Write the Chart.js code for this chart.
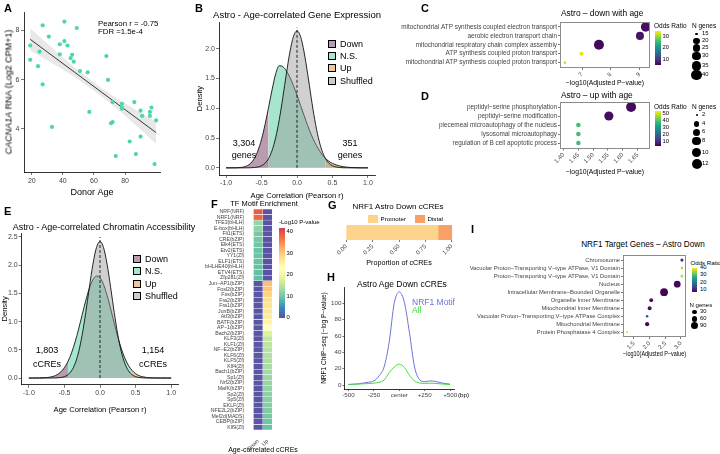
<!DOCTYPE html>
<html>
<head>
<meta charset="utf-8">
<title>Astro age figure</title>
<script src="https://cdn.jsdelivr.net/npm/chart.js@4.4.1/dist/chart.umd.min.js"></script>
<style>
  body { margin: 0; background: #fff; }
  #fig { position: relative; width: 720px; height: 454px; overflow: hidden; font-family: "Liberation Sans", Arial, sans-serif; }
  #fig canvas { position: absolute; }
  .t { position: absolute; white-space: nowrap; line-height: 1; color: #000; }
  .lt { position: absolute; font-weight: bold; font-size: 11px; line-height: 1; color: #000; }
</style>
</head>
<body>
<div id="fig"></div>
<script>
// ---- A: CACNA1A expression vs donor age
var donorAge = [19, 19, 24, 25, 27, 27, 31, 33, 38, 38, 41, 41, 43, 45, 46, 47, 49, 51, 56, 57,
                68, 69, 71, 72, 72, 74, 78, 78, 78, 83, 86, 87, 90, 91, 96, 96, 97, 100, 99, 90];
var cacna1aExpr = [7.39, 6.81, 6.55, 7.14, 8.21, 5.81, 7.75, 4.08, 7.44, 7.03, 8.36, 7.57, 7.39, 6.88, 7.01, 6.73, 8.10, 6.35, 6.30, 4.69,
                   6.96, 5.99, 4.23, 4.28, 5.09, 2.90, 5.02, 4.87, 4.82, 3.49, 5.09, 2.98, 4.74, 4.53, 4.69, 4.53, 4.87, 4.35, 2.57, 3.69];
var fitAge = [19, 100];
var fitExpr = [7.64, 3.85];
var bandAge = [19, 30, 40, 50, 60, 70, 80, 90, 100];
var bandHi = [8.09, 7.47, 6.91, 6.38, 5.89, 5.44, 5.04, 4.66, 4.30];
var bandLo = [7.19, 6.79, 6.41, 6.00, 5.55, 5.06, 4.54, 3.98, 3.40];

// ---- B / E: density of age correlation
var rGrid = [-1.0, -0.95, -0.9, -0.85, -0.8, -0.75, -0.7, -0.65, -0.6, -0.55, -0.5, -0.45, -0.4, -0.35, -0.3, -0.25, -0.2, -0.15, -0.1, -0.05, 0,
             0.05, 0.1, 0.15, 0.2, 0.25, 0.3, 0.35, 0.4, 0.45, 0.5, 0.55, 0.6, 0.65, 0.7, 0.75, 0.8, 0.85, 0.9, 0.95, 1.0];
var geneDensity = [0, 0, 0.001, 0.002, 0.006, 0.015, 0.037, 0.08, 0.16, 0.29, 0.48, 0.73, 1.02, 1.32, 1.58, 1.715, 1.70, 1.63, 1.52, 1.38, 1.22,
                   1.05, 0.88, 0.71, 0.56, 0.43, 0.32, 0.23, 0.16, 0.11, 0.075, 0.05, 0.032, 0.02, 0.012, 0.007, 0.004, 0.002, 0.001, 0, 0];
var geneShuffled = [0, 0, 0, 0, 0, 0, 0.001, 0.002, 0.006, 0.015, 0.035, 0.078, 0.159, 0.297, 0.512, 0.81, 1.18, 1.58, 1.946, 2.206, 2.30,
                    2.206, 1.946, 1.58, 1.18, 0.81, 0.512, 0.297, 0.159, 0.078, 0.035, 0.015, 0.006, 0.002, 0.001, 0, 0, 0, 0, 0, 0];
var geneCut = [-0.4, 0.4];
var geneCounts = ['3,304', '351'];
var atacDensity = [0, 0, 0.001, 0.002, 0.004, 0.008, 0.016, 0.032, 0.061, 0.109, 0.183, 0.293, 0.446, 0.639, 0.871, 1.123, 1.373, 1.588, 1.741, 1.808, 1.779,
                   1.658, 1.464, 1.225, 0.972, 0.728, 0.518, 0.349, 0.223, 0.135, 0.077, 0.042, 0.022, 0.011, 0.005, 0.002, 0.001, 0, 0, 0, 0];
var atacShuffled = [0, 0, 0, 0, 0, 0, 0, 0.001, 0.003, 0.009, 0.025, 0.059, 0.128, 0.255, 0.463, 0.769, 1.161, 1.601, 2.014, 2.311, 2.42,
                    2.311, 2.014, 1.601, 1.161, 0.769, 0.463, 0.255, 0.128, 0.059, 0.025, 0.009, 0.003, 0.001, 0, 0, 0, 0, 0, 0, 0];
var atacCut = [-0.45, 0.45];
var atacCounts = ['1,803', '1,154'];
var groupNames = ['Down', 'N.S.', 'Up', 'Shuffled'];

// ---- C / D: GO terms
var downTerms = ['mitochondrial ATP synthesis coupled electron transport', 'aerobic electron transport chain',
                 'mitochondrial respiratory chain complex assembly', 'ATP synthesis coupled proton transport',
                 'mitochondrial ATP synthesis coupled proton transport'];
var downLogP = [9.22, 9.02, 7.59, 6.98, 6.40];
var downOR = [7, 7.5, 6.5, 34.4, 32.4];
var downN = [35, 27, 38, 16, 15];
var upTerms = ['peptidyl−serine phosphorylation', 'peptidyl−serine modification', 'piecemeal microautophagy of the nucleus',
               'lysosomal microautophagy', 'regulation of B cell apoptotic process'];
var upLogP = [1.628, 1.553, 1.45, 1.45, 1.45];
var upOR = [5, 5.5, 38.5, 38.5, 38.5];
var upN = [12, 10, 3, 3, 3];

// ---- F: motif enrichment
var motifs = ['NRF(NRF)', 'NRF1(NRF)', 'TFE3(bHLH)', 'E-box(bHLH)', 'Fli1(ETS)', 'CRE(bZIP)', 'Elk4(ETS)', 'Etv2(ETS)', 'YY1(Zf)', 'ELF1(ETS)',
              'bHLHE40(bHLH)', 'ETV4(ETS)', 'Zfp281(Zf)', 'Jun−AP1(bZIP)', 'Fosl2(bZIP)', 'Fos(bZIP)', 'Fra2(bZIP)', 'Fra1(bZIP)', 'JunB(bZIP)', 'Atf3(bZIP)',
              'BATF(bZIP)', 'AP−1(bZIP)', 'Bach2(bZIP)', 'KLF3(Zf)', 'KLF1(Zf)', 'NF−E2(bZIP)', 'KLF6(Zf)', 'KLF5(Zf)', 'Klf4(Zf)', 'Bach1(bZIP)',
              'Sp1(Zf)', 'Nrf2(bZIP)', 'MafK(bZIP)', 'Sp2(Zf)', 'Sp5(Zf)', 'EKLF(Zf)', 'NFE2L2(bZIP)', 'Mef2d(MADS)', 'CEBP(bZIP)', 'Klf9(Zf)'];
var motifDown = [39, 38, 12.5, 12, 10.5, 10.3, 10, 9.8, 9.6, 9.5, 9.3, 9.2, 9,
                 0.6, 0.6, 0.6, 0.6, 0.6, 0.6, 0.6, 0.6, 0.6, 0.6, 0.6, 0.6, 0.6, 0.6, 0.6, 0.6, 0.6, 0.6, 0.6, 0.6, 0.6, 0.6, 0.6, 0.6, 0.6, 0.6, 0.6];
var motifUp = [0.3, 0.3, 0.3, 0.3, 0.3, 0.3, 0.3, 0.3, 0.3, 0.3, 0.3, 0.3, 0.3,
               31, 30.5, 29, 28, 27.5, 27, 26, 25, 23.5, 18, 16, 15.5, 15, 14.5, 14.2, 14, 13.4, 13, 12.7, 12.4, 12, 11.8, 11.5, 11, 10.5, 10, 9.5];
var motifCols = ['Down', 'Up'];

// ---- G: promoter / distal
var creClass = ['Promoter', 'Distal'];
var creFrac = [0.87, 0.13];

// ---- H: ChIP signal around cCREs
var bpPos = [-500, -450, -400, -350, -300, -250, -200, -150, -100, -50, 0, 50, 100, 150, 200, 250, 300, 350, 400, 450, 500];
var nrf1Motif = [0.5, 1, 1.5, 2.5, 3.5, 5, 11, 22, 52, 100, 114, 101, 64, 22, 6.5, 4, 5, 4.5, 3, 1.8, 1];
var allCre = [0.8, 1, 1.2, 1.5, 1.8, 2.3, 3.3, 6, 15, 22, 25.5, 21.5, 12, 5, 2.5, 2, 2.2, 2, 1.5, 1, 0.6];
var hTickLabels = ['-500', '-250', 'center', '+250', '+500'];

// ---- I: NRF1 target genes
var nrf1Terms = ['Chromosome', 'Vacuolar Proton−Transporting V−type ATPase, V1 Domain', 'Proton−Transporting V−type ATPase, V1 Domain',
                 'Nucleus', 'Intracellular Membrane−Bounded Organelle', 'Organelle Inner Membrane', 'Mitochondrial Inner Membrane',
                 'Vacuolar Proton−Transporting V−type ATPase Complex', 'Mitochondrial Membrane', 'Protein Phosphatase 4 Complex'];
var nrf1LogP = [3.03, 3.03, 3.03, 2.88, 2.46, 2.05, 2.0, 1.92, 1.92, 1.28];
var nrf1OR = [12.7, 37, 37, 8.5, 8, 8.5, 9, 15, 8.5, 39.3];
var nrf1N = [18, 12, 12, 82, 110, 26, 28, 12, 32, 8];

// colour ramps
var viridisStops = ['#440154', '#482475', '#414487', '#355f8d', '#2a788e', '#21918c', '#22a884', '#44bf70', '#7ad151', '#bddf26', '#fde725'];
var spectralStops = ['#5e4fa2', '#3288bd', '#66c2a5', '#abdda4', '#e6f598', '#ffffbf', '#fee08b', '#fdae61', '#f46d43', '#d53e4f'];

function rgbOf(h) {
  return [parseInt(h.substr(1, 2), 16), parseInt(h.substr(3, 2), 16), parseInt(h.substr(5, 2), 16)];
}
function ramp(stops, t) {
  t = Math.max(0, Math.min(1, t));
  var p = t * (stops.length - 1), i = Math.min(Math.floor(p), stops.length - 2), f = p - i;
  var a = rgbOf(stops[i]), b = rgbOf(stops[i + 1]);
  return 'rgb(' + [0, 1, 2].map(function (k) { return Math.round(a[k] + (b[k] - a[k]) * f); }).join(',') + ')';
}
function spec(v) { return ramp(spectralStops, v / 42); }
function sizeR(n, s) { return s.rmin + (s.rmax - s.rmin) * Math.sqrt(Math.max(0, n - s.lo) / (s.hi - s.lo)); }

Chart.defaults.font.family = '"Liberation Sans", Arial, sans-serif';
Chart.defaults.color = '#444';
Chart.defaults.animation = false;
Chart.defaults.responsive = false;
Chart.defaults.maintainAspectRatio = false;
Chart.defaults.plugins.legend.display = false;
Chart.defaults.plugins.tooltip.enabled = false;
Chart.defaults.elements.point.radius = 0;

// grey box round the plot area (C, D, I)
Chart.register({
  id: 'frame',
  afterDatasetsDraw: function (chart, args, opts) {
    if (!opts.color) return;
    var a = chart.chartArea, ctx = chart.ctx;
    ctx.save();
    ctx.strokeStyle = opts.color;
    ctx.lineWidth = 1;
    ctx.strokeRect(Math.round(a.left) + 0.5, Math.round(a.top) + 0.5, Math.round(a.right - a.left) - 1, Math.round(a.bottom - a.top) - 1);
    ctx.restore();
  }
});

var fig = document.getElementById('fig');

function txt(s, x, y, size, o) {
  o = o || {};
  var d = document.createElement('div');
  d.className = 't';
  d.innerHTML = s;
  d.style.left = x + 'px';
  d.style.top = y + 'px';
  d.style.fontSize = size + 'px';
  if (o.color) d.style.color = o.color;
  var tx = o.a === 'l' ? '0' : (o.a === 'r' ? '-100%' : '-50%');
  d.style.transform = 'translate(' + tx + ',-50%)' + (o.rot ? ' rotate(' + o.rot + 'deg)' : '');
  fig.appendChild(d);
  return d;
}
function box(x, y, w, h, css) {
  var d = document.createElement('div');
  d.style.position = 'absolute';
  d.style.left = x + 'px';
  d.style.top = y + 'px';
  d.style.width = w + 'px';
  d.style.height = h + 'px';
  for (var k in css) d.style[k] = css[k];
  fig.appendChild(d);
  return d;
}
function letter(s, x, y) {
  var d = document.createElement('div');
  d.className = 'lt';
  d.textContent = s;
  d.style.left = x + 'px';
  d.style.top = y + 'px';
  fig.appendChild(d);
}

// canvas at b = [x, y, w, h], plot area at area = [x0, y0, x1, y1] (page pixels)
function panel(b, area, cfg) {
  var c = document.createElement('canvas');
  c.width = b[2];
  c.height = b[3];
  c.style.left = b[0] + 'px';
  c.style.top = b[1] + 'px';
  c.style.width = b[2] + 'px';
  c.style.height = b[3] + 'px';
  fig.appendChild(c);
  var yw = area[0] - b[0], xh = b[1] + b[3] - area[3];
  var o = cfg.options;
  o.devicePixelRatio = 1;
  o.layout = {padding: {left: 0, top: area[1] - b[1], right: b[0] + b[2] - area[2], bottom: 0}};
  o.scales.x.afterFit = function (s) { s.height = xh; s.paddingLeft = 0; s.paddingRight = 0; };
  o.scales.y.afterFit = function (s) { s.width = yw; s.paddingTop = 0; s.paddingBottom = 0; };
  return new Chart(c, cfg);
}

function linAx(min, max, ticks, fmt, size, o) {
  o = o || {};
  return {
    type: 'linear', min: min, max: max, reverse: !!o.reverse,
    afterBuildTicks: function (s) { s.ticks = ticks.map(function (v) { return {value: v}; }); },
    ticks: {font: {size: size}, color: '#444', padding: o.pad == null ? 1 : o.pad, autoSkip: false,
            maxRotation: o.rot || 0, minRotation: o.rot || 0,
            callback: function (v, i) { return fmt(v, i); }},
    grid: {display: true, drawOnChartArea: false, tickLength: o.tl == null ? 3 : o.tl, color: '#555', lineWidth: 0.8},
    border: {display: o.border !== false, color: '#000', width: 0.8},
    title: o.title ? {display: true, text: o.title, font: {size: o.tsize || 7}, color: '#000', padding: 0} : {display: false}
  };
}
function fix1(v) { return v.toFixed(1); }

// ================= A
panel([0, 0, 170, 198], [24, 12, 160, 172], {
  type: 'line',
  data: {datasets: [
    {data: donorAge.map(function (a, i) { return {x: a, y: cacna1aExpr[i]}; }), showLine: false,
     pointRadius: 2.1, pointBackgroundColor: '#4fd7a3', pointBorderWidth: 0, order: 0},
    {data: fitAge.map(function (a, i) { return {x: a, y: fitExpr[i]}; }), borderColor: '#222', borderWidth: 0.9, order: 1},
    {data: bandAge.map(function (a, i) { return {x: a, y: bandHi[i]}; }), borderWidth: 0, tension: 0.4,
     fill: '+1', backgroundColor: 'rgba(165,165,165,0.25)', order: 2},
    {data: bandAge.map(function (a, i) { return {x: a, y: bandLo[i]}; }), borderWidth: 0, tension: 0.4, order: 3}
  ]},
  options: {scales: {
    x: linAx(15, 102.5, [20, 40, 60, 80], String, 7, {title: 'Donor Age', tsize: 9, pad: 2}),
    y: linAx(2.25, 8.75, [4, 6, 8], String, 7, {pad: 1.5})
  }}
});
txt('<i>CACNA1A</i> RNA (Log2 CPM+1)', 9, 92, 9, {rot: -90});
txt('Pearson r = -0.75', 98, 23.5, 7.8, {a: 'l'});
txt('FDR =1.5e-4', 98, 32, 7.8, {a: 'l'});

// ================= B and E
function densityPanel(b, area, obs, shuf, cut, dashTop, yMax, yTicks) {
  function pts(keep) {
    var out = [];
    rGrid.forEach(function (r, i) { if (keep(r)) out.push({x: r, y: obs[i]}); });
    return out;
  }
  function region(keep, col) {
    return {data: pts(keep), borderWidth: 0, fill: 'origin', backgroundColor: col, cubicInterpolationMode: 'monotone', order: 6};
  }
  return panel(b, area, {
    type: 'line',
    data: {datasets: [
      region(function (r) { return r <= cut[0]; }, '#b99cb0'),
      region(function (r) { return r >= cut[0] && r <= cut[1]; }, '#a6e6ce'),
      region(function (r) { return r >= cut[1]; }, '#ebc79b'),
      {data: pts(function () { return true; }), borderColor: '#111', borderWidth: 0.9, cubicInterpolationMode: 'monotone', order: 5},
      {data: rGrid.map(function (r, i) { return {x: r, y: shuf[i]}; }), borderColor: '#111', borderWidth: 0.9,
       fill: 'origin', backgroundColor: 'rgba(150,150,150,0.45)', cubicInterpolationMode: 'monotone', order: 4},
      {data: [{x: 0, y: 0}, {x: 0, y: dashTop}], borderColor: '#111', borderWidth: 0.9, borderDash: [3, 2], order: 3}
    ]},
    options: {scales: {
      x: linAx(-1.1, 1.1, [-1, -0.5, 0, 0.5, 1], fix1, 7, {title: 'Age Correlation (Pearson r)', tsize: 7.6}),
      y: linAx(-0.12, yMax, yTicks, fix1, 7, {title: 'Density', tsize: 7.6})
    }}
  });
}
function groupLegend(x, ys, tx) {
  var cols = ['#b99cb0', '#a6e6ce', '#ebc79b', '#cccccc'];
  groupNames.forEach(function (g, i) {
    box(x, ys[i] - 4, 8, 8, {background: cols[i], border: '0.8px solid #000', boxSizing: 'border-box'});
    txt(g, tx, ys[i], 9, {a: 'l'});
  });
}

densityPanel([195, 0, 182, 200], [219, 22, 375, 175], geneDensity, geneShuffled, geneCut, 2.36, 2.45, [0, 0.5, 1, 1.5, 2]);
groupLegend(328, [44.2, 56.3, 68.4, 80.5], 340);
txt('Astro - Age-correlated Gene Expression', 297, 15, 9.5);
txt(geneCounts[0], 244, 143, 9);
txt('genes', 244, 155, 9);
txt(geneCounts[1], 350, 143, 9);
txt('genes', 350, 155, 9);

densityPanel([0, 230, 185, 184], [21.7, 233, 178.3, 384.8], atacDensity, atacShuffled, atacCut, 2.5, 2.57, [0, 0.5, 1, 1.5, 2, 2.5]);
groupLegend(133, [258.7, 271.2, 283.8, 296.2], 145);
txt('Astro - Age-correlated Chromatin Accessibility', 104, 227, 9);
txt(atacCounts[0], 47, 350, 9);
txt('cCREs', 47, 364, 9);
txt(atacCounts[1], 153, 350, 9);
txt('cCREs', 153, 364, 9);

// ================= C, D, I bubbles
function bubblePanel(b, area, terms, logp, or, n, orRange, sz, xr, xt, xd, lsize) {
  return panel(b, area, {
    type: 'bubble',
    data: {datasets: [{
      data: terms.map(function (t, i) { return {x: logp[i], y: i, r: sizeR(n[i], sz)}; }),
      backgroundColor: or.map(function (v) { return ramp(viridisStops, (v - orRange[0]) / (orRange[1] - orRange[0])); }),
      borderWidth: 0
    }]},
    options: {
      plugins: {frame: {color: '#8c8c8c'}},
      scales: {
        x: linAx(xr[0], xr[1], xt, function (v) { return v.toFixed(xd); }, 6,
                 {rot: 45, title: '−log10(Adjusted P−value)', tsize: 6.8, border: false, tl: 2}),
        y: linAx(-0.6, terms.length - 0.4, terms.map(function (t, i) { return i; }), function (v) { return terms[v]; }, lsize,
                 {reverse: true, border: false, tl: 2, pad: 1})
      }
    }
  });
}
function orLegend(x, y, h, range, ticks, tx) {
  box(x, y, 5.5, h, {background: 'linear-gradient(to top,' + viridisStops.join(',') + ')'});
  ticks.forEach(function (v) {
    txt(String(v), tx, y + h * (1 - (v - range[0]) / (range[1] - range[0])), 5.8, {a: 'l'});
  });
}
function sizeLegend(vals, ys, sz, dx, tx) {
  vals.forEach(function (v, i) {
    var r = sizeR(v, sz);
    box(dx - r, ys[i] - r, 2 * r, 2 * r, {background: '#000', borderRadius: '50%'});
    txt(String(v), tx, ys[i], 5.8, {a: 'l'});
  });
}

var sizeC = {lo: 15, hi: 40, rmin: 1.3, rmax: 5.2};
var sizeD = {lo: 2, hi: 12, rmin: 1.0, rmax: 5.0};
var sizeI = {lo: 0, hi: 110, rmin: 0, rmax: 3.9};

bubblePanel([390, 14, 265, 73], [560, 21.6, 652, 68], downTerms, downLogP, downOR, downN, [5.8, 35.3], sizeC,
            [6.23, 9.37], [7, 8, 9], 0, 6.4);
txt('Astro – down with age', 561, 13, 8.4, {a: 'l'});
txt('Odds Ratio', 654, 26, 6.5, {a: 'l'});
orLegend(655, 30.5, 34, [5.8, 35.3], [10, 20, 30], 662.5);
txt('N genes', 692, 26, 6.5, {a: 'l'});
sizeLegend([15, 20, 25, 30, 35, 40], [33.8, 40.6, 48, 56.1, 65.9, 75.3], sizeC, 696.5, 702);

bubblePanel([390, 96, 265, 80], [560, 101.6, 652, 148.5], upTerms, upLogP, upOR, upN, [3.6, 54], sizeD,
            [1.388, 1.692], [1.40, 1.45, 1.50, 1.55, 1.60, 1.65], 2, 6.4);
txt('Astro – up with age', 561, 94.5, 8.4, {a: 'l'});
txt('Odds Ratio', 654, 107, 6.5, {a: 'l'});
orLegend(655, 111, 35.4, [3.6, 54], [10, 20, 30, 40, 50], 662.5);
txt('N genes', 692, 107.4, 6.5, {a: 'l'});
sizeLegend([2, 4, 6, 8, 10, 12], [115, 124.1, 132.1, 141.2, 152.5, 163.5], sizeD, 696.5, 702);

bubblePanel([440, 250, 250, 108], [623, 255.3, 689.5, 337], nrf1Terms, nrf1LogP, nrf1OR, nrf1N, [7.7, 41], sizeI,
            [1.15, 3.16], [1.5, 2, 2.5, 3], 1, 5.8);
txt('NRF1 Target Genes – Astro Down', 643, 245, 8.2);
txt('Odds Ratio', 690.5, 263, 6.1, {a: 'l'});
orLegend(691.5, 267.5, 24, [7.7, 41], [10, 20, 30, 40], 700);
txt('N genes', 689.5, 305.3, 6.1, {a: 'l'});
sizeLegend([30, 60, 90], [312, 318.7, 325.7], sizeI, 694.5, 700);

// ================= F heatmap
panel([204, 207, 70, 247], [253.3, 209, 272.3, 430], {
  type: 'bar',
  data: {labels: motifs, datasets: [motifDown, motifUp].map(function (vals) {
    return {data: motifs.map(function () { return 1; }), backgroundColor: vals.map(spec),
            borderColor: '#fff', borderWidth: 0.5, borderSkipped: false, barPercentage: 1, categoryPercentage: 1};
  })},
  options: {indexAxis: 'y', scales: {
    x: {type: 'linear', stacked: true, min: 0, max: 2,
        afterBuildTicks: function (s) { s.ticks = [{value: 0.5}, {value: 1.5}]; },
        ticks: {font: {size: 5.4}, color: '#444', padding: 0, maxRotation: 45, minRotation: 45,
                callback: function (v, i) { return motifCols[i]; }},
        grid: {display: false}, border: {display: false}},
    y: {type: 'category', stacked: true, ticks: {autoSkip: false, font: {size: 5.2}, color: '#444', padding: 1},
        grid: {display: false}, border: {display: false}}
  }}
});
txt('Age-correlated cCREs', 263, 449, 7);
txt('TF Motif Enrichment', 264, 204, 7.5);
txt('-Log10 P-value', 279, 222, 6, {a: 'l'});
box(279, 227.7, 5.5, 90.3, {background: 'linear-gradient(to top,' + spectralStops.join(',') + ')'});
[0, 10, 20, 30, 40].forEach(function (v) { txt(String(v), 286.5, 318 - v * 2.15, 5.8, {a: 'l'}); });

// ================= G stacked bar
var creColors = ['#fdd38b', '#f9a066'];
panel([335, 221, 125, 46], [341, 225, 457, 240], {
  type: 'bar',
  data: {labels: ['cCREs'], datasets: creClass.map(function (c, i) {
    return {label: c, data: [creFrac[i]], backgroundColor: creColors[i], barPercentage: 1, categoryPercentage: 1};
  })},
  options: {indexAxis: 'y', scales: {
    x: Object.assign(linAx(-0.05, 1.05, [0, 0.25, 0.5, 0.75, 1], function (v) { return v.toFixed(2); }, 6,
                           {rot: 45, title: 'Proportion of cCREs', tsize: 7.2, border: false, tl: 2}), {stacked: true}),
    y: {type: 'category', stacked: true, ticks: {display: false}, grid: {display: false}, border: {display: false}}
  }}
});
txt('NRF1 Astro Down cCREs', 398, 207, 8);
creClass.forEach(function (c, i) {
  var x = [368, 415][i];
  box(x, 214.5, 9.5, 8, {background: creColors[i]});
  txt(c, x + 12.5, 218.5, 6.2, {a: 'l'});
});

// ================= H ChIP profile
panel([320, 279, 140, 120], [344.4, 287, 454.2, 389.1], {
  type: 'line',
  data: {datasets: [
    {data: bpPos.map(function (p, i) { return {x: p, y: allCre[i]}; }), borderColor: '#3ddc3d', borderWidth: 1,
     cubicInterpolationMode: 'monotone', order: 1},
    {data: bpPos.map(function (p, i) { return {x: p, y: nrf1Motif[i]}; }), borderColor: '#6b72d9', borderWidth: 1,
     cubicInterpolationMode: 'monotone', order: 2}
  ]},
  options: {scales: {
    x: linAx(-540, 540, [-500, -250, 0, 250, 500], function (v, i) { return hTickLabels[i]; }, 6.2, {tl: 2, pad: 0.5}),
    y: linAx(-5, 120, [0, 20, 40, 60, 80, 100], String, 6.2, {title: 'NRF1 ChIP−seq (−log P−value)', tsize: 6.5, tl: 2})
  }}
});
txt('(bp)', 458, 394.5, 6.2, {a: 'l'});
txt('Astro Age Down cCREs', 402, 284, 8.5);
txt('NRF1 Motif', 412, 302, 8.5, {a: 'l', color: '#6b72d9'});
txt('All', 412, 310, 8.5, {a: 'l', color: '#3ddc3d'});

// panel letters
letter('A', 4, 3);
letter('B', 195, 3);
letter('C', 421, 3);
letter('D', 421, 91);
letter('E', 4, 206);
letter('F', 211, 199);
letter('G', 328, 200);
letter('H', 327, 272);
letter('I', 471, 224);
</script>
</body>
</html>
